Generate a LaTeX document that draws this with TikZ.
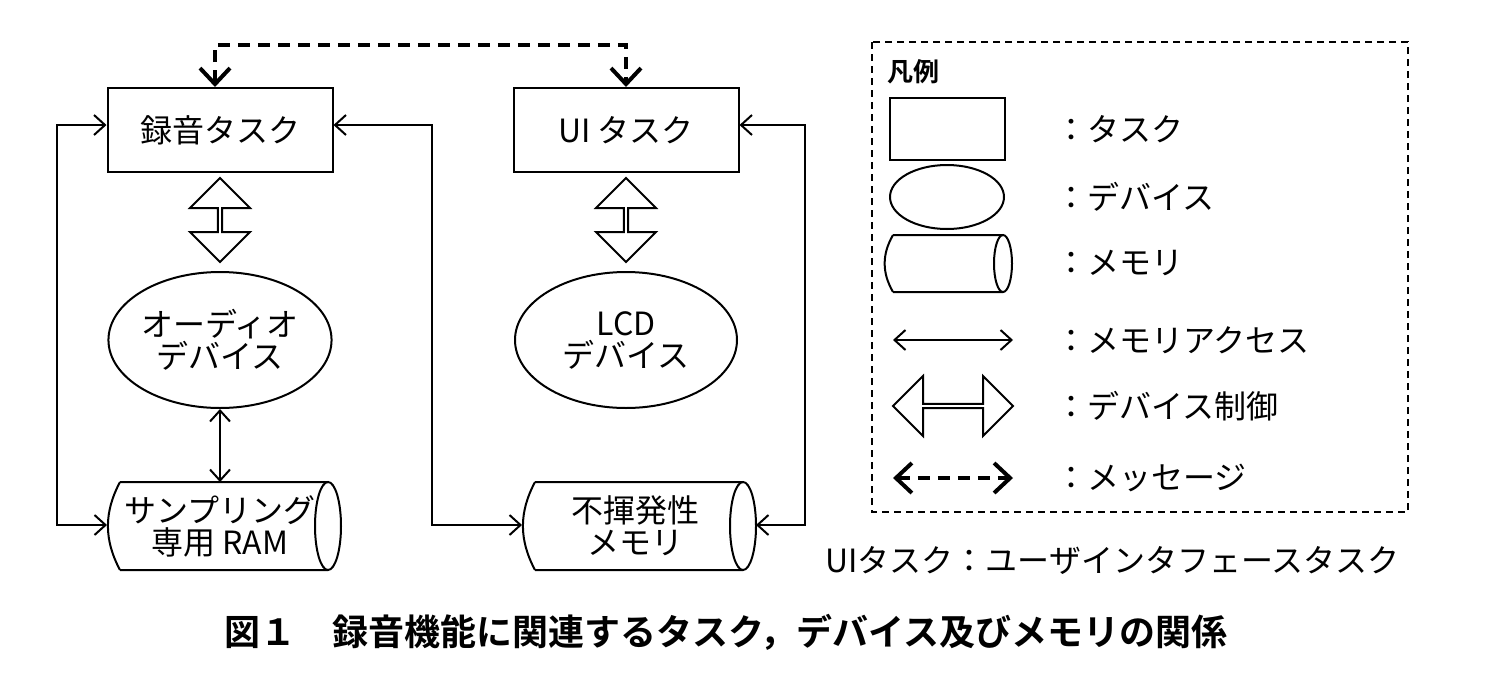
\documentclass[tikz,border=0pt]{standalone}
\usepackage{fontspec}
\setmainfont{Noto Sans CJK JP}
\newfontfamily\capfont{Noto Sans CJK JP}[BoldFont={* Bold}]
\usetikzlibrary{arrows.meta,shapes.geometric,shapes.arrows}

\newcommand{\memcyl}[4]{%
  % #1 name, #2 x, #3 y, #4 text
  \draw[line width=2pt] (#2-100,#3-44) -- (#2+108,#3-44)
    (#2-100,#3+44) -- (#2+108,#3+44)
    (#2-100,#3+44) to[bend left=28] (#2-100,#3-44);
  \draw[line width=2pt] (#2+108,#3) ellipse[x radius=13,y radius=44];
  \node[memtext] (#1) at (#2,#3) {#4};
}

\begin{document}
\begin{tikzpicture}[x=1pt,y=-1pt,
  every node/.style={font=\fontsize{32}{38}\selectfont},
  task/.style={draw,line width=2pt,minimum width=225,minimum height=84,inner sep=0pt},
  device/.style={draw,line width=2pt,ellipse,minimum width=222,minimum height=136,inner sep=0pt,align=center},
  memtext/.style={minimum width=215,minimum height=88,inner sep=0pt,align=center},
  ctrl/.style={draw,line width=2pt,double arrow,double arrow head extend=13,minimum width=60,minimum height=84,inner sep=0pt},
  acc/.style={line width=2pt,{Straight Barb[length=11,width=20]}-{Straight Barb[length=11,width=20]}},
  msg/.style={line width=4pt,dash pattern=on 12 off 8,{Straight Barb[length=16,width=30]}-{Straight Barb[length=16,width=30]}},
  lbl/.style={anchor=west}]
\useasboundingbox (0,0) rectangle (1508,686);

% tasks
\node[task] (rec) at (220,130) {録音タスク};
\node[task] (ui) at (626,130) {UI タスク};

% device control
\node[ctrl,rotate=90] (recctl) at (220,220) {};
\node[ctrl,rotate=90] (uictl) at (626,220) {};

% devices
\node[device] (audio) at (220,340) {オーディオ\\[-6pt]デバイス};
\node[device] (lcd) at (626,340) {LCD\\[-6pt]デバイス};

% memories
\memcyl{ram}{220}{526}{サンプリング\\[-6pt]専用 RAM}
\memcyl{nvm}{635}{526}{不揮発性\\[-6pt]メモリ}

% memory access
\coordinate (c1) at (57,125);
\coordinate (c2) at (57,525);
\draw[acc] (rec.west |- c1) -- (c1) -- (c2) -- (107,525);
\coordinate (c3) at (432,125);
\coordinate (c4) at (432,525);
\draw[acc] (rec.east |- c3) -- (c3) -- (c4) -- (522,525);
\coordinate (c5) at (805,125);
\coordinate (c6) at (805,525);
\draw[acc] (ui.east |- c5) -- (c5) -- (c6) -- (756,525);
\draw[acc] (audio.south) -- (220,482);

% message
\coordinate (m1) at (215,45);
\coordinate (m2) at (626,45);
\draw[msg] (rec.north -| m1) -- (m1) -- (m2) -- (ui.north);

% legend
\draw[line width=2pt,dash pattern=on 7 off 5] (872,42) rectangle (1408,512);
\node[anchor=west,font=\capfont\bfseries\fontsize{26}{30}\selectfont] (hd) at (884,72) {凡例};
\node[task,minimum width=115,minimum height=62] (lt) at (947,129) {};
\node[draw,line width=2pt,ellipse,minimum width=114,minimum height=64,inner sep=0pt] (ld) at (947,197) {};
\draw[line width=2pt] (893,235) -- (1003,235) (893,292) -- (1003,292)
  (893,292) to[bend left=30] (893,235);
\draw[line width=2pt] (1003,263.5) ellipse[x radius=9,y radius=28.5];
\coordinate (la1) at (893,340); \coordinate (la2) at (1013,340);
\draw[acc] (la1) -- (la2);
\node[ctrl,minimum height=120] (lc) at (953,406) {};
\coordinate (lm1) at (893,478); \coordinate (lm2) at (1013,478);
\draw[msg] (lm1) -- (lm2);
\foreach \y/\t in {129/タスク,197/デバイス,263/メモリ,340/メモリアクセス,406/デバイス制御,478/メッセージ}{
  \node[lbl] at (1052,\y) {：\t};
}

\node[anchor=west] (note) at (822,560) {UIタスク：ユーザインタフェースタスク};
\node[font=\capfont\bfseries\fontsize{36}{42}\selectfont] (cap) at (726,632) {図１　録音機能に関連するタスク，デバイス及びメモリの関係};
\end{tikzpicture}
\end{document}
